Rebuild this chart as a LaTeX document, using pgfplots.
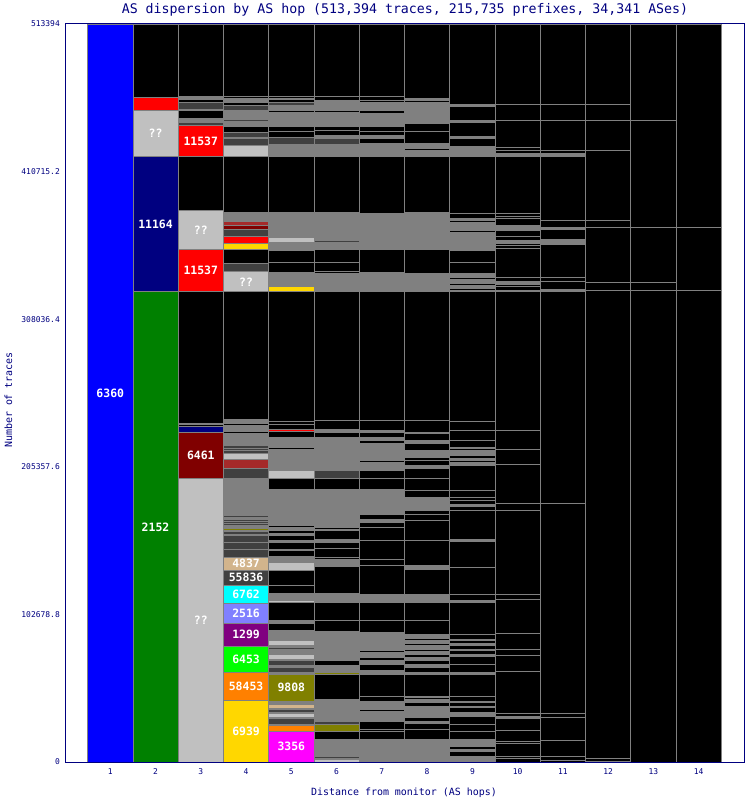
\documentclass[border=0pt]{standalone}
\usepackage{fontspec}
\usepackage{pgfplots}
\pgfplotsset{compat=1.18}
\newfontfamily\mono{DejaVu Sans Mono}
\definecolor{cG}{HTML}{808080}
\definecolor{cD}{HTML}{404040}
\definecolor{cL}{HTML}{C0C0C0}
\definecolor{cR}{HTML}{FF0000}
\definecolor{cM}{HTML}{800000}
\definecolor{cB}{HTML}{A52A2A}
\definecolor{cY}{HTML}{FFD700}
\definecolor{cN}{HTML}{000080}
\definecolor{cV}{HTML}{008000}
\definecolor{cU}{HTML}{0000FF}
\definecolor{cO}{HTML}{808000}
\definecolor{cT}{HTML}{D2B48C}
\definecolor{cC}{HTML}{00FFFF}
\definecolor{cP}{HTML}{8080FF}
\definecolor{cQ}{HTML}{800080}
\definecolor{cE}{HTML}{00FF00}
\definecolor{cF}{HTML}{FF8000}
\definecolor{cZ}{HTML}{FF00FF}
\newcommand{\sg}[3]{\addplot[fill=#3] coordinates {(#1,#2)};}
\newcommand{\lb}[3]{\node[text=white,inner sep=0pt,font=\mono\bfseries\fontsize{11.5}{12}\selectfont] at (axis cs:#1,#2) {#3};}
\begin{document}
\begin{tikzpicture}
\useasboundingbox (0,0) rectangle (745bp,800bp);
\begin{axis}[
  at={(65bp,38bp)}, anchor=south west,
  scale only axis, width=679bp, height=738bp,
  xmin=0, xmax=15, ymin=0, ymax=513394,
  scaled y ticks=false, scaled x ticks=false,
  axis on top,
  axis line style={draw=cN, line width=1bp},
  major tick length=0pt,
  xtick={1,2,3,4,5,6,7,8,9,10,11,12,13,14},
  xticklabels={1,2,3,4,5,6,7,8,9,10,11,12,13,14},
  ytick={0,102678.8,205357.6,308036.4,410715.2,513394},
  yticklabels={0,102678.8,205357.6,308036.4,410715.2,513394},
  ticklabel style={font=\mono\fontsize{8}{9}\selectfont, text=cN, inner sep=0pt},
  xticklabel style={anchor=north, yshift=-6bp},
  yticklabel style={anchor=east, xshift=-5bp},
  every axis plot/.append style={ybar, bar width=1, bar shift=0pt, draw=cG, line width=0.8bp},
]
% column 1
\sg{1}{513394}{cU}
% column 2
\sg{2}{513394}{black}
\sg{2}{462400}{cR}
\sg{2}{453300}{cL}
\sg{2}{421200}{cN}
\sg{2}{327100}{cV}
% column 3
\sg{3}{513394}{black}
\sg{3}{463200}{cG}
\sg{3}{462540}{black}
\sg{3}{461500}{cG}
\sg{3}{460800}{black}
\sg{3}{458570}{cD}
\sg{3}{453840}{cG}
\sg{3}{453000}{black}
\sg{3}{447910}{cY}
\sg{3}{447220}{cG}
\sg{3}{446520}{cB}
\sg{3}{445820}{cG}
\sg{3}{445130}{cD}
\sg{3}{442830}{cR}
\sg{3}{421200}{black}
\sg{3}{384040}{cL}
\sg{3}{356450}{cR}
\sg{3}{327100}{black}
\sg{3}{235240}{cG}
\sg{3}{234550}{black}
\sg{3}{233710}{cN}
\sg{3}{228970}{cM}
\sg{3}{197625}{cL}
% column 4
\sg{4}{513394}{black}
\sg{4}{463240}{black}
\sg{4}{461640}{cG}
\sg{4}{460940}{black}
\sg{4}{459970}{cG}
\sg{4}{459060}{black}
\sg{4}{456970}{cD}
\sg{4}{453490}{cG}
\sg{4}{446730}{cD}
\sg{4}{445820}{cG}
\sg{4}{442340}{black}
\sg{4}{437810}{cD}
\sg{4}{434470}{black}
\sg{4}{433770}{cD}
\sg{4}{429250}{cL}
\sg{4}{421200}{black}
\sg{4}{382640}{cG}
\sg{4}{376860}{cD}
\sg{4}{375820}{cB}
\sg{4}{373170}{cM}
\sg{4}{370380}{cD}
\sg{4}{365370}{cR}
\sg{4}{360840}{cY}
\sg{4}{356450}{black}
\sg{4}{347120}{cD}
\sg{4}{340990}{cL}
\sg{4}{327100}{black}
\sg{4}{238030}{cG}
\sg{4}{235450}{black}
\sg{4}{234410}{cG}
\sg{4}{232800}{cL}
\sg{4}{231760}{cG}
\sg{4}{229880}{black}
\sg{4}{228830}{cG}
\sg{4}{220130}{cD}
\sg{4}{218380}{cD}
\sg{4}{216640}{cD}
\sg{4}{214550}{cL}
\sg{4}{210510}{cB}
\sg{4}{204450}{cD}
\sg{4}{197625}{cG}
\sg{4}{171360}{cD}
\sg{4}{170180}{cG}
\sg{4}{169070}{cD}
\sg{4}{167530}{cD}
\sg{4}{165790}{cD}
\sg{4}{164400}{cG}
\sg{4}{162800}{cO}
\sg{4}{161400}{cG}
\sg{4}{160430}{cD}
\sg{4}{158130}{cG}
\sg{4}{157430}{cD}
\sg{4}{152900}{cD}
\sg{4}{147680}{cD}
\sg{4}{142460}{cT}
\sg{4}{133610}{cD}
\sg{4}{122810}{cC}
\sg{4}{110550}{cP}
\sg{4}{96620}{cQ}
\sg{4}{80600}{cE}
\sg{4}{62490}{cF}
\sg{4}{42980}{cY}
% column 5
\sg{5}{513394}{black}
\sg{5}{463240}{black}
\sg{5}{461640}{cG}
\sg{5}{460800}{black}
\sg{5}{459060}{cD}
\sg{5}{456760}{cG}
\sg{5}{453140}{black}
\sg{5}{451610}{cG}
\sg{5}{442340}{black}
\sg{5}{438370}{black}
\sg{5}{434470}{cD}
\sg{5}{429800}{cG}
\sg{5}{423320}{cD}
\sg{5}{422840}{cG}
\sg{5}{422140}{cY}
\sg{5}{421200}{black}
\sg{5}{382640}{cG}
\sg{5}{374560}{cL}
\sg{5}{373870}{cG}
\sg{5}{372190}{cD}
\sg{5}{371080}{cG}
\sg{5}{365230}{cL}
\sg{5}{361740}{cG}
\sg{5}{358260}{cD}
\sg{5}{357570}{cG}
\sg{5}{356100}{black}
\sg{5}{347810}{black}
\sg{5}{340850}{cG}
\sg{5}{335760}{cB}
\sg{5}{335070}{cG}
\sg{5}{333880}{cB}
\sg{5}{332980}{cD}
\sg{5}{332070}{cG}
\sg{5}{331090}{cY}
\sg{5}{327100}{black}
\sg{5}{236840}{black}
\sg{5}{234750}{black}
\sg{5}{231060}{cR}
\sg{5}{229670}{black}
\sg{5}{225910}{cG}
\sg{5}{218520}{black}
\sg{5}{217130}{cG}
\sg{5}{215460}{cD}
\sg{5}{214340}{cG}
\sg{5}{211980}{cB}
\sg{5}{211280}{cG}
\sg{5}{205150}{cL}
\sg{5}{204450}{cG}
\sg{5}{203060}{cL}
\sg{5}{197625}{black}
\sg{5}{189820}{cG}
\sg{5}{166700}{black}
\sg{5}{166000}{cG}
\sg{5}{164400}{black}
\sg{5}{163000}{cG}
\sg{5}{161400}{black}
\sg{5}{159030}{cG}
\sg{5}{157430}{black}
\sg{5}{154440}{cG}
\sg{5}{152760}{black}
\sg{5}{148170}{cG}
\sg{5}{146980}{black}
\sg{5}{142800}{cG}
\sg{5}{138830}{cL}
\sg{5}{133540}{black}
\sg{5}{122810}{black}
\sg{5}{117240}{cG}
\sg{5}{112150}{cL}
\sg{5}{110760}{black}
\sg{5}{98220}{cG}
\sg{5}{96480}{black}
\sg{5}{91260}{cG}
\sg{5}{84500}{cL}
\sg{5}{80810}{cG}
\sg{5}{79620}{cD}
\sg{5}{78510}{cG}
\sg{5}{75020}{cL}
\sg{5}{71540}{cG}
\sg{5}{70360}{cD}
\sg{5}{66870}{cG}
\sg{5}{65690}{cD}
\sg{5}{62210}{cG}
\sg{5}{61090}{cO}
\sg{5}{42490}{cG}
\sg{5}{40190}{cT}
\sg{5}{37410}{cG}
\sg{5}{36430}{cD}
\sg{5}{34340}{cG}
\sg{5}{33650}{cL}
\sg{5}{30860}{cG}
\sg{5}{30440}{cD}
\sg{5}{26260}{cG}
\sg{5}{25770}{cF}
\sg{5}{21390}{cZ}
% column 6
\sg{6}{513394}{black}
\sg{6}{462750}{black}
\sg{6}{459970}{cG}
\sg{6}{453000}{black}
\sg{6}{451610}{cG}
\sg{6}{442340}{black}
\sg{6}{439070}{black}
\sg{6}{435580}{cG}
\sg{6}{433770}{cD}
\sg{6}{429800}{cG}
\sg{6}{421200}{black}
\sg{6}{382640}{cG}
\sg{6}{366410}{cL}
\sg{6}{365720}{cG}
\sg{6}{362930}{cD}
\sg{6}{361740}{cG}
\sg{6}{356450}{black}
\sg{6}{347390}{black}
\sg{6}{341130}{black}
\sg{6}{340150}{cG}
\sg{6}{334580}{cD}
\sg{6}{333880}{cG}
\sg{6}{328310}{cL}
\sg{6}{327100}{black}
\sg{6}{237540}{black}
\sg{6}{231060}{cG}
\sg{6}{229180}{black}
\sg{6}{225490}{cG}
\sg{6}{218940}{black}
\sg{6}{218250}{cG}
\sg{6}{202710}{cD}
\sg{6}{197625}{black}
\sg{6}{189820}{cG}
\sg{6}{172550}{black}
\sg{6}{171710}{cG}
\sg{6}{166490}{black}
\sg{6}{165790}{cG}
\sg{6}{163210}{black}
\sg{6}{162100}{cG}
\sg{6}{160920}{black}
\sg{6}{155130}{cG}
\sg{6}{152760}{black}
\sg{6}{148380}{black}
\sg{6}{142320}{black}
\sg{6}{141200}{cG}
\sg{6}{136050}{black}
\sg{6}{117520}{cG}
\sg{6}{110970}{black}
\sg{6}{98220}{black}
\sg{6}{90560}{cG}
\sg{6}{84290}{black}
\sg{6}{83590}{cG}
\sg{6}{81020}{black}
\sg{6}{80110}{cG}
\sg{6}{72660}{cD}
\sg{6}{72100}{cG}
\sg{6}{70360}{black}
\sg{6}{66870}{cG}
\sg{6}{62350}{cO}
\sg{6}{61090}{black}
\sg{6}{43540}{cL}
\sg{6}{42840}{cG}
\sg{6}{38520}{cL}
\sg{6}{37830}{cG}
\sg{6}{36220}{cD}
\sg{6}{35180}{cG}
\sg{6}{32040}{cD}
\sg{6}{31350}{cG}
\sg{6}{28560}{cD}
\sg{6}{26260}{cO}
\sg{6}{21600}{black}
\sg{6}{15810}{cG}
\sg{6}{4180}{cD}
\sg{6}{2580}{cG}
\sg{6}{1880}{cL}
% column 7
\sg{7}{513394}{black}
\sg{7}{462750}{black}
\sg{7}{459970}{black}
\sg{7}{459060}{cG}
\sg{7}{453000}{black}
\sg{7}{451190}{cG}
\sg{7}{442340}{black}
\sg{7}{438370}{black}
\sg{7}{435580}{cG}
\sg{7}{433770}{black}
\sg{7}{430290}{cG}
\sg{7}{421200}{black}
\sg{7}{381530}{cG}
\sg{7}{379650}{black}
\sg{7}{379160}{cG}
\sg{7}{374980}{black}
\sg{7}{374070}{cG}
\sg{7}{368710}{black}
\sg{7}{368010}{cG}
\sg{7}{358260}{black}
\sg{7}{357570}{cG}
\sg{7}{356450}{black}
\sg{7}{340640}{cG}
\sg{7}{327100}{black}
\sg{7}{237540}{black}
\sg{7}{230580}{cG}
\sg{7}{228970}{black}
\sg{7}{225910}{cG}
\sg{7}{223610}{black}
\sg{7}{221310}{cG}
\sg{7}{220610}{black}
\sg{7}{219920}{cG}
\sg{7}{209680}{black}
\sg{7}{208490}{cG}
\sg{7}{202710}{black}
\sg{7}{197625}{black}
\sg{7}{189820}{cG}
\sg{7}{176030}{black}
\sg{7}{174850}{cG}
\sg{7}{172550}{black}
\sg{7}{169070}{cG}
\sg{7}{166700}{black}
\sg{7}{163210}{black}
\sg{7}{153950}{black}
\sg{7}{141200}{black}
\sg{7}{136530}{black}
\sg{7}{116820}{cG}
\sg{7}{110970}{black}
\sg{7}{98220}{black}
\sg{7}{90070}{cG}
\sg{7}{86170}{black}
\sg{7}{85190}{cG}
\sg{7}{82410}{black}
\sg{7}{81500}{cG}
\sg{7}{77320}{black}
\sg{7}{76140}{cG}
\sg{7}{72660}{black}
\sg{7}{70360}{cG}
\sg{7}{68060}{black}
\sg{7}{63390}{cG}
\sg{7}{61090}{black}
\sg{7}{45980}{black}
\sg{7}{42490}{cG}
\sg{7}{36710}{black}
\sg{7}{35530}{cG}
\sg{7}{28560}{black}
\sg{7}{22780}{black}
\sg{7}{21600}{black}
\sg{7}{15810}{cG}
\sg{7}{2790}{cL}
\sg{7}{2090}{cG}
% column 8
\sg{8}{513394}{black}
\sg{8}{461640}{cG}
\sg{8}{459970}{black}
\sg{8}{459060}{cG}
\sg{8}{455370}{black}
\sg{8}{454670}{cG}
\sg{8}{450000}{black}
\sg{8}{449310}{cG}
\sg{8}{448400}{black}
\sg{8}{447710}{cG}
\sg{8}{444220}{black}
\sg{8}{438370}{black}
\sg{8}{430290}{cG}
\sg{8}{426810}{black}
\sg{8}{425620}{cG}
\sg{8}{421200}{black}
\sg{8}{382640}{cG}
\sg{8}{380340}{black}
\sg{8}{379650}{cG}
\sg{8}{378050}{black}
\sg{8}{377350}{cG}
\sg{8}{367600}{black}
\sg{8}{366900}{cG}
\sg{8}{358260}{black}
\sg{8}{357570}{cG}
\sg{8}{356450}{black}
\sg{8}{339730}{cG}
\sg{8}{328590}{black}
\sg{8}{327890}{cG}
\sg{8}{327100}{black}
\sg{8}{237540}{black}
\sg{8}{229390}{cG}
\sg{8}{228280}{black}
\sg{8}{223610}{cG}
\sg{8}{221730}{black}
\sg{8}{216640}{cG}
\sg{8}{211980}{black}
\sg{8}{209680}{black}
\sg{8}{206190}{cG}
\sg{8}{203900}{black}
\sg{8}{197625}{black}
\sg{8}{188780}{black}
\sg{8}{184110}{cG}
\sg{8}{179510}{black}
\sg{8}{178330}{cG}
\sg{8}{174850}{black}
\sg{8}{172550}{black}
\sg{8}{167880}{black}
\sg{8}{153950}{black}
\sg{8}{136530}{cG}
\sg{8}{134240}{black}
\sg{8}{116820}{cG}
\sg{8}{110970}{black}
\sg{8}{98220}{black}
\sg{8}{88960}{cG}
\sg{8}{86170}{black}
\sg{8}{84290}{cG}
\sg{8}{82410}{black}
\sg{8}{80810}{cG}
\sg{8}{78510}{black}
\sg{8}{76840}{cG}
\sg{8}{75020}{black}
\sg{8}{72660}{cG}
\sg{8}{70360}{black}
\sg{8}{68060}{cG}
\sg{8}{65690}{black}
\sg{8}{62210}{cG}
\sg{8}{61090}{black}
\sg{8}{45980}{cG}
\sg{8}{44790}{black}
\sg{8}{43680}{cG}
\sg{8}{41310}{black}
\sg{8}{39010}{cG}
\sg{8}{30860}{black}
\sg{8}{28560}{cG}
\sg{8}{26680}{black}
\sg{8}{22780}{black}
\sg{8}{15810}{cG}
\sg{8}{4880}{black}
\sg{8}{4180}{cG}
% column 9
\sg{9}{513394}{black}
\sg{9}{457670}{cG}
\sg{9}{456270}{black}
\sg{9}{446520}{cG}
\sg{9}{445130}{black}
\sg{9}{434890}{cG}
\sg{9}{433490}{black}
\sg{9}{428410}{cG}
\sg{9}{427500}{black}
\sg{9}{426810}{cG}
\sg{9}{425620}{black}
\sg{9}{424440}{cG}
\sg{9}{421200}{black}
\sg{9}{381950}{black}
\sg{9}{378050}{cG}
\sg{9}{376860}{black}
\sg{9}{375680}{cG}
\sg{9}{369900}{black}
\sg{9}{368710}{cG}
\sg{9}{365230}{black}
\sg{9}{364110}{cG}
\sg{9}{361740}{black}
\sg{9}{360630}{cG}
\sg{9}{358260}{black}
\sg{9}{357150}{cG}
\sg{9}{355960}{black}
\sg{9}{347810}{black}
\sg{9}{339730}{cG}
\sg{9}{336950}{black}
\sg{9}{335970}{cG}
\sg{9}{332770}{black}
\sg{9}{331790}{cG}
\sg{9}{329280}{black}
\sg{9}{328100}{cG}
\sg{9}{327100}{black}
\sg{9}{237050}{black}
\sg{9}{230580}{black}
\sg{9}{223610}{black}
\sg{9}{218940}{cG}
\sg{9}{217830}{black}
\sg{9}{216640}{cG}
\sg{9}{215460}{black}
\sg{9}{214340}{cG}
\sg{9}{213160}{black}
\sg{9}{210860}{cG}
\sg{9}{209680}{black}
\sg{9}{208490}{cG}
\sg{9}{206190}{black}
\sg{9}{188780}{black}
\sg{9}{184110}{black}
\sg{9}{181810}{black}
\sg{9}{179510}{cG}
\sg{9}{177630}{black}
\sg{9}{174850}{black}
\sg{9}{155130}{cG}
\sg{9}{153460}{black}
\sg{9}{135350}{black}
\sg{9}{116820}{black}
\sg{9}{112640}{cG}
\sg{9}{110970}{black}
\sg{9}{88960}{black}
\sg{9}{85470}{cG}
\sg{9}{84290}{black}
\sg{9}{82410}{cG}
\sg{9}{80810}{black}
\sg{9}{78510}{cG}
\sg{9}{77320}{black}
\sg{9}{75020}{cG}
\sg{9}{73140}{black}
\sg{9}{68060}{black}
\sg{9}{62210}{cG}
\sg{9}{61090}{black}
\sg{9}{45980}{black}
\sg{9}{42490}{cG}
\sg{9}{41310}{black}
\sg{9}{39010}{cG}
\sg{9}{37830}{black}
\sg{9}{34340}{cG}
\sg{9}{32040}{black}
\sg{9}{26260}{black}
\sg{9}{21600}{black}
\sg{9}{15810}{cG}
\sg{9}{11150}{black}
\sg{9}{8850}{cG}
\sg{9}{7660}{black}
\sg{9}{4180}{cG}
% column 10
\sg{10}{513394}{black}
\sg{10}{457460}{black}
\sg{10}{446310}{black}
\sg{10}{427710}{black}
\sg{10}{425410}{black}
\sg{10}{423320}{cG}
\sg{10}{421200}{black}
\sg{10}{381530}{black}
\sg{10}{379650}{black}
\sg{10}{378050}{black}
\sg{10}{373380}{cG}
\sg{10}{369900}{black}
\sg{10}{365720}{black}
\sg{10}{362930}{cG}
\sg{10}{360630}{black}
\sg{10}{359450}{black}
\sg{10}{357150}{black}
\sg{10}{336950}{black}
\sg{10}{334580}{cG}
\sg{10}{332280}{black}
\sg{10}{330890}{black}
\sg{10}{328100}{cG}
\sg{10}{327100}{black}
\sg{10}{230580}{black}
\sg{10}{217130}{black}
\sg{10}{206890}{black}
\sg{10}{179930}{black}
\sg{10}{174850}{black}
\sg{10}{116330}{black}
\sg{10}{112850}{black}
\sg{10}{89170}{black}
\sg{10}{78020}{black}
\sg{10}{73840}{black}
\sg{10}{62690}{black}
\sg{10}{34130}{black}
\sg{10}{32040}{cG}
\sg{10}{30650}{black}
\sg{10}{21800}{black}
\sg{10}{14630}{black}
\sg{10}{13240}{black}
\sg{10}{4180}{black}
\sg{10}{2790}{black}
% column 11
\sg{11}{513394}{black}
\sg{11}{457460}{black}
\sg{11}{446310}{black}
\sg{11}{425410}{black}
\sg{11}{423320}{cG}
\sg{11}{421200}{black}
\sg{11}{376860}{black}
\sg{11}{372190}{cG}
\sg{11}{370380}{black}
\sg{11}{363420}{cG}
\sg{11}{361050}{black}
\sg{11}{359930}{black}
\sg{11}{336950}{black}
\sg{11}{334370}{black}
\sg{11}{329000}{black}
\sg{11}{328100}{cG}
\sg{11}{327100}{black}
\sg{11}{179720}{black}
\sg{11}{34130}{black}
\sg{11}{31350}{black}
\sg{11}{14840}{black}
\sg{11}{3830}{black}
\sg{11}{1390}{black}
% column 12
\sg{12}{513394}{black}
\sg{12}{457460}{black}
\sg{12}{446310}{black}
\sg{12}{425410}{black}
\sg{12}{376860}{black}
\sg{12}{372190}{black}
\sg{12}{333880}{black}
\sg{12}{327890}{black}
\sg{12}{2300}{black}
\sg{12}{700}{black}
% column 13
\sg{13}{513394}{black}
\sg{13}{446310}{black}
\sg{13}{372190}{black}
\sg{13}{333880}{black}
\sg{13}{327890}{black}
% column 14
\sg{14}{513394}{black}
\sg{14}{372190}{black}
\sg{14}{327890}{black}
% labels
\lb{1}{256700}{6360}
\lb{2}{437250}{??}
\lb{2}{374150}{11164}
\lb{2}{163550}{2152}
\lb{3}{432000}{11537}
\lb{3}{370250}{??}
\lb{3}{341800}{11537}
\lb{3}{213300}{6461}
\lb{3}{98800}{??}
\lb{4}{334050}{??}
\lb{4}{138030}{4837}
\lb{4}{128210}{55836}
\lb{4}{116680}{6762}
\lb{4}{103580}{2516}
\lb{4}{88610}{1299}
\lb{4}{71540}{6453}
\lb{4}{52730}{58453}
\lb{4}{21490}{6939}
\lb{5}{51790}{9808}
\lb{5}{10690}{3356}
\end{axis}
\node[anchor=base, text=cN, inner sep=0pt, font=\mono\fontsize{13.3}{14}\selectfont] at (405bp,786bp) {AS dispersion by AS hop (513,394 traces, 215,735 prefixes, 34,341 ASes)};
\node[anchor=base, text=cN, inner sep=0pt, font=\mono\fontsize{10}{11}\selectfont] at (404bp,5bp) {Distance from monitor (AS hops)};
\node[rotate=90, anchor=base, text=cN, inner sep=0pt, font=\mono\fontsize{10}{11}\selectfont] at (12bp,400bp) {Number of traces};
\end{tikzpicture}
\end{document}
